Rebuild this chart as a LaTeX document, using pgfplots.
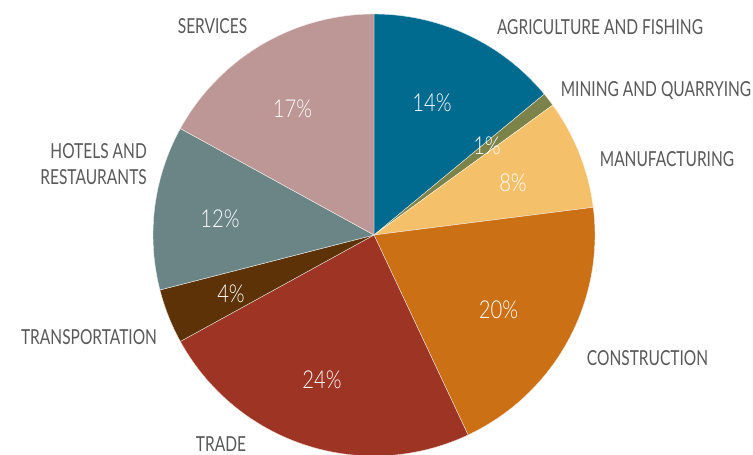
\documentclass[border=0pt]{standalone}
\usepackage{pgfplots}
\usepackage{pgfplotstable}
\pgfplotsset{compat=1.18}
\usepackage{fontspec}
\setmainfont[FakeStretch=0.82]{Lato}
\newfontfamily\lblfont[FakeStretch=0.75]{Lato}
\newfontfamily\pctfont[FakeStretch=0.82]{Lato Light}

\definecolor{cAgr}{HTML}{006A8F}
\definecolor{cMin}{HTML}{7B834A}
\definecolor{cMan}{HTML}{F5C06A}
\definecolor{cCon}{HTML}{CB7015}
\definecolor{cTra}{HTML}{9E3423}
\definecolor{cTsp}{HTML}{5C3206}
\definecolor{cHot}{HTML}{6B8587}
\definecolor{cSer}{HTML}{BC9796}
\definecolor{labelgray}{HTML}{595959}

% shares in percent, clockwise from 12 o'clock
\pgfplotstableread{
share color
14 cAgr
1  cMin
8  cMan
20 cCon
24 cTra
4  cTsp
12 cHot
17 cSer
}\sharetable

\newcommand{\lbl}[1]{\lblfont\fontsize{15.5pt}{18pt}\selectfont\color{labelgray}#1}
\newcommand{\pct}[1]{\pctfont\fontsize{18.5pt}{20pt}\selectfont\color{white}#1}

\begin{document}
\begin{tikzpicture}
\begin{axis}[
  width=564.75pt, height=340.5pt, scale only axis,
  xmin=0, xmax=753, ymin=0, ymax=454,
  axis lines=box, axis line style={draw=none}, ticks=none,
]
\gdef\cum{0}
\pgfplotsinvokeforeach{0,...,7}{
  \pgfplotstablegetelem{#1}{share}\of\sharetable \let\sh\pgfplotsretval
  \pgfplotstablegetelem{#1}{color}\of\sharetable \let\col\pgfplotsretval
  \pgfmathsetmacro\aA{90-3.6*\cum}
  \pgfmathsetmacro\aB{90-3.6*(\cum+\sh)}
  \edef\temp{\noexpand\addplot[fill=\col, draw=white!85!\col, line width=0.3pt,
    domain=\aB:\aA, samples=90, variable=\noexpand\t]
    ({374+221*cos(\noexpand\t)},{219+221*sin(\noexpand\t)}) -- (374,219) -- cycle;}
  \temp
  \pgfmathsetmacro\newcum{\cum+\sh}\global\let\cum\newcum
}

% category labels
\node[anchor=base] at (600,419) {\lbl{AGRICULTURE AND FISHING}};
\node[anchor=base] at (656,357) {\lbl{MINING AND QUARRYING}};
\node[anchor=base] at (667,287) {\lbl{MANUFACTURING}};
\node[anchor=base] at (647.5,89) {\lbl{CONSTRUCTION}};
\node[anchor=base] at (221,3) {\lbl{TRADE}};
\node[anchor=base] at (89,110) {\lbl{TRANSPORTATION}};
\node[anchor=base east, inner sep=0pt] at (147,295) {\lbl{HOTELS AND}};
\node[anchor=base east, inner sep=0pt] at (147,269) {\lbl{RESTAURANTS}};
\node[anchor=base] at (212.5,420) {\lbl{SERVICES}};

% percentage labels
\node[anchor=base] at (432,342) {\pct{14\%}};
\node[anchor=base] at (487,299) {\pct{1\%}};
\node[anchor=base] at (513,262) {\pct{8\%}};
\node[anchor=base] at (498.5,136) {\pct{20\%}};
\node[anchor=base] at (322,66) {\pct{24\%}};
\node[anchor=base] at (231,152) {\pct{4\%}};
\node[anchor=base] at (220,226) {\pct{12\%}};
\node[anchor=base] at (292.5,336) {\pct{17\%}};
\end{axis}
\end{tikzpicture}
\end{document}
